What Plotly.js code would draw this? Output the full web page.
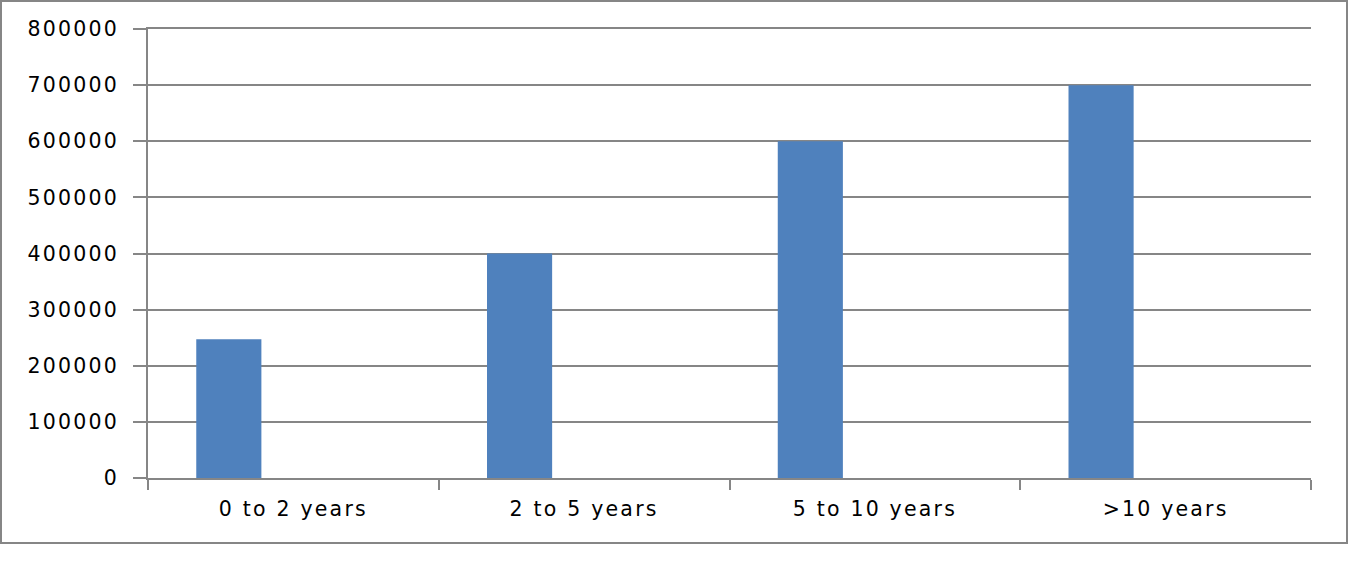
<!DOCTYPE html>
<html>
<head>
<meta charset="utf-8">
<script src="https://cdn.plot.ly/plotly-3.0.1.min.js"></script>
<style>
  html, body { margin: 0; padding: 0; background: #ffffff; }
  #frame { position: absolute; left: 0; top: 0; width: 1348px; height: 544px; box-sizing: border-box; border: 2px solid #868686; }
  #chart { position: absolute; left: 0; top: 0; width: 1360px; height: 561px; }
  .xtick text, .ytick text { letter-spacing: 2.2px; }
</style>
</head>
<body>
<div id="frame"></div>
<div id="chart"></div>
<script>
const categories = ["0 to 2 years", "2 to 5 years", "5 to 10 years", ">10 years"];
const values = [247000, 400000, 600000, 700000];
const yTickValues = [0, 100000, 200000, 300000, 400000, 500000, 600000, 700000, 800000];
const yTickLabels = ["0", "100000", "200000", "300000", "400000", "500000", "600000", "700000", "800000"];

const grey = "#868686";

const trace = {
  type: "bar",
  x: categories,
  y: values,
  width: 0.224,
  offset: -0.334,
  marker: { color: "#4F81BD", line: { width: 0 } },
  hoverinfo: "x+y"
};

const layout = {
  width: 1360,
  height: 561,
  margin: { l: 148, r: 49, t: 29, b: 83, pad: 0 },
  paper_bgcolor: "rgba(0,0,0,0)",
  plot_bgcolor: "rgba(0,0,0,0)",
  showlegend: false,
  font: { family: "DejaVu Sans", size: 20.5, color: "#000000" },
  xaxis: {
    type: "category",
    range: [-0.5, 3.5],
    tickson: "boundaries",
    ticks: "outside",
    ticklen: 10,
    tickwidth: 2,
    tickcolor: grey,
    showline: true,
    mirror: true,
    linecolor: grey,
    linewidth: 2,
    showgrid: false,
    zeroline: false,
    ticklabelstandoff: 11,
    tickfont: { family: "DejaVu Sans", size: 20.5, color: "#000000" }
  },
  yaxis: {
    range: [0, 800000],
    tickmode: "array",
    tickvals: yTickValues,
    ticktext: yTickLabels,
    ticks: "outside",
    ticklen: 13,
    tickwidth: 2,
    tickcolor: grey,
    showline: true,
    linecolor: grey,
    linewidth: 2,
    showgrid: true,
    gridcolor: grey,
    gridwidth: 2,
    zeroline: false,
    ticklabelstandoff: 10,
    tickfont: { family: "DejaVu Sans", size: 20.5, color: "#000000" }
  }
};

Plotly.newPlot("chart", [trace], layout, { displayModeBar: false, staticPlot: true });
</script>
</body>
</html>
